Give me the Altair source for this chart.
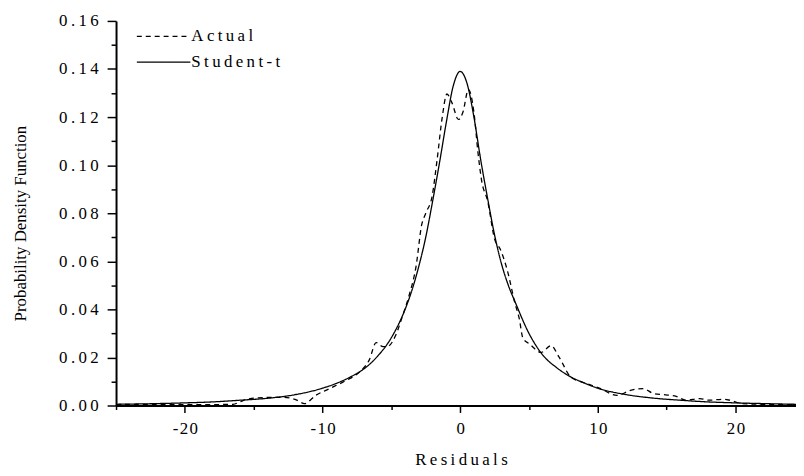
import altair as alt
import pandas as pd

# Student-t fitted density
student_x = [-25, -22, -20, -18, -16, -14, -12, -10, -9, -8, -7, -6, -5, -4, -3.5, -3, -2.5, -2, -1.5, -1, -0.5,
             0, 0.5, 1, 1.5, 2, 2.5, 3, 3.5, 4, 5, 6, 7, 8, 9, 10, 12, 14, 16, 18, 20, 22, 24.4]
student_y = [0.0005, 0.0008, 0.0011, 0.0015, 0.0022, 0.0030, 0.0045, 0.0072, 0.0092, 0.0118, 0.0152, 0.0205, 0.0282,
             0.0400, 0.0480, 0.0580, 0.0700, 0.0850, 0.1010, 0.1180, 0.1330,
             0.1390, 0.1340, 0.1200, 0.1020, 0.0860, 0.0710, 0.0590, 0.0500, 0.0430, 0.0300, 0.0210, 0.0158,
             0.0120, 0.0094, 0.0072, 0.0046, 0.0031, 0.0022, 0.0015, 0.0011, 0.0008, 0.0005]

actual_x = [-25, -22, -20, -18, -16.5, -16, -15.5, -14.3, -12.9, -12, -11.3, -10.5, -9.5, -8.3, -7.3, -6.6, -6.1,
            -5.6, -5.2, -4.7, -4.2, -3.7, -3.2, -2.8, -2.5, -2.04, -1.68, -1.3, -0.96, -0.6, -0.12, 0.2, 0.6,
            1.0, 1.3, 1.56, 2.0, 2.52, 2.88, 3.48, 3.96, 4.3, 4.56, 5.04, 5.88, 6.6, 7.2, 8.05, 9.24, 10.2,
            11.4, 12.37, 13.3, 14.05, 14.8, 15.7, 16.4, 17.4, 18.1, 19.1, 19.6, 20.5, 23, 24.4]
actual_y = [0.0004, 0.0005, 0.0004, 0.0004, 0.0005, 0.0015, 0.0026, 0.0033, 0.0034, 0.0026, 0.0008, 0.0042,
            0.0070, 0.0104, 0.0140, 0.0190, 0.0262, 0.0245, 0.0248, 0.0290, 0.0370, 0.0460, 0.0580, 0.0750,
            0.0800, 0.0870, 0.1020, 0.1200, 0.1296, 0.1260, 0.1190, 0.1220, 0.1314, 0.1220, 0.1050, 0.0936,
            0.0850, 0.0689, 0.0654, 0.0551, 0.0430, 0.0360, 0.0280, 0.0256, 0.0221, 0.0249, 0.0200, 0.0118,
            0.0091, 0.0070, 0.0042, 0.0063, 0.0070, 0.0050, 0.0045, 0.0038, 0.0022, 0.0029, 0.0022, 0.0026,
            0.0022, 0.0008, 0.0004, 0.0003]

series_names = ["Actual", "Student-t"]
x_ticks = [-25, -20, -15, -10, -5, 0, 5, 10, 15, 20]
y_ticks = [round(i * 0.01, 2) for i in range(17)]

df = pd.concat([
    pd.DataFrame({"x": actual_x, "y": actual_y, "series": series_names[0]}),
    pd.DataFrame({"x": student_x, "y": student_y, "series": series_names[1]}),
])

FONT = "Liberation Serif"
SP = "\u2009"
HSP = "\u200a"
spaced = "replace({s}, /(.)(?=.)/g, '$1" + SP + "')"
hspaced = "replace({s}, /(.)(?=.)/g, '$1" + HSP + "')"

x_axis = alt.Axis(
    values=x_ticks,
    title=SP.join("Residuals"),
    titleFont=FONT, titleFontSize=17, titleFontWeight="normal", titleColor="black",
    titleX=348, titleY=60, titleAlign="center", titleBaseline="alphabetic",
    labelExpr="datum.value % 10 === 0 ? " + hspaced.format(s="('' + datum.value)") + " : ''",
    labelFont=FONT, labelFontSize=17, labelColor="black", labelPadding=8, labelFlush=False,
    tickSize={"condition": {"test": "datum.value % 10 !== 0", "value": 4}, "value": 7},
    tickColor="black", tickWidth=1.5, domainColor="black", domainWidth=2, grid=False,
)
y_axis = alt.Axis(
    values=y_ticks,
    title="Probability Density Function",
    titleFont=FONT, titleFontSize=17, titleFontWeight="normal", titleColor="black",
    titleX=-96, titleY=204, titleAlign="center", titleBaseline="middle", titleAngle=270,
    labelExpr="round(datum.value * 100) % 2 === 0 ? " + spaced.format(s="format(datum.value, '.2f')") + " : ''",
    labelFont=FONT, labelFontSize=17, labelColor="black", labelPadding=9,
    tickSize={"condition": {"test": "round(datum.value * 100) % 2 !== 0", "value": 5}, "value": 9},
    tickColor="black", tickWidth=1.5, domainColor="black", domainWidth=2, grid=False,
)

chart = alt.Chart(df).mark_line(color="black", strokeWidth=1.3, interpolate="monotone").encode(
    x=alt.X("x:Q", scale=alt.Scale(domain=[-25, 24.4], nice=False, zero=False), axis=x_axis),
    y=alt.Y("y:Q", scale=alt.Scale(domain=[0, 0.16], nice=False), axis=y_axis),
    strokeDash=alt.StrokeDash(
        "series:N",
        scale=alt.Scale(domain=series_names, range=[[5, 4], [1, 0]]),
        legend=alt.Legend(
            orient="none", legendX=20, legendY=7, title=None, padding=0,
            symbolType="stroke", symbolSize=2916, symbolStrokeWidth=1.2, symbolStrokeColor="black",
            clipHeight=17, rowPadding=8, labelOffset=0,
            labelFont=FONT, labelFontSize=17, labelColor="black",
            labelExpr=spaced.format(s="datum.label"),
        ),
    ),
).properties(
    width=686, height=388,
    autosize=alt.AutoSizeParams(type="none"),
    padding={"left": 109, "top": 11, "right": 0, "bottom": 61},
).configure_view(stroke=None)

chart.save("out.html", embed_options={"renderer": "svg", "actions": False})
